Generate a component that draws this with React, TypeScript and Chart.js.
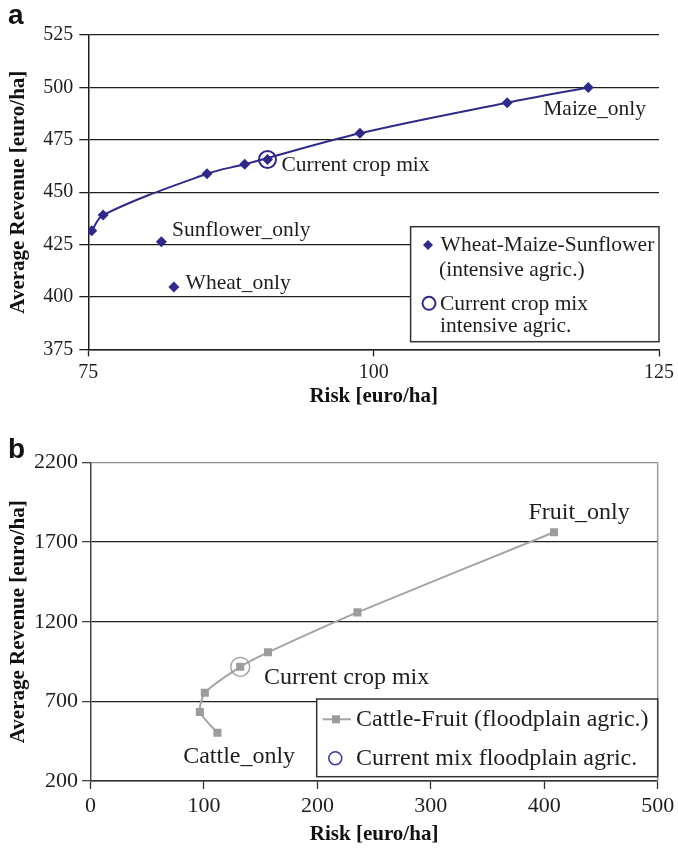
import { useEffect, useRef } from 'react';
import { Chart, registerables } from 'chart.js';

Chart.register(...registerables);

const SERIF = "'Liberation Serif', 'Times New Roman', serif";
const SANS = "'Liberation Sans', Arial, sans-serif";

// ---- Panel a: Wheat-Maize-Sunflower portfolios (intensive agriculture) ----
const riskTicksA = [75, 100, 125];
const revenueTicksA = [375, 400, 425, 450, 475, 500, 525];
const frontierRiskA = [75.3, 76.3, 85.4, 88.7, 98.8, 111.7, 118.8];
const frontierRevenueA = [431.6, 439.1, 458.8, 463.3, 478.1, 492.7, 500.0];
const singleCropNamesA = ['Sunflower_only', 'Wheat_only'];
const singleRiskA = [81.4, 82.5];
const singleRevenueA = [426.4, 404.8];
const currentRiskA = [90.7];
const currentRevenueA = [465.6];
const legendA = [
  ['Wheat-Maize-Sunflower', '(intensive agric.)'],
  ['Current crop mix', 'intensive agric.'],
];

// ---- Panel b: Cattle-Fruit portfolios (floodplain agriculture) ----
const riskTicksB = [0, 100, 200, 300, 400, 500];
const revenueTicksB = [200, 700, 1200, 1700, 2200];
const frontierRiskB = [111.9, 96.4, 100.8, 132.0, 156.5, 235.3, 408.6];
const frontierRevenueB = [503, 633, 754, 917, 1008, 1259, 1762];
const currentRiskB = [132.0];
const currentRevenueB = [917];
const legendB = ['Cattle-Fruit (floodplain agric.)', 'Current mix floodplain agric.'];

const NAVY = '#2f2a88';
const GREY_MARK = '#9c9c9c';
const GREY_LINE = '#a4a4a4';
const INK = '#1e1e1e';

const toPoints = (xs: number[], ys: number[]) => xs.map((x, i) => ({ x, y: ys[i] }));
const fixedTicks = (values: number[]) => (s: any) => {
  s.ticks = values.map((v) => ({ value: v }));
};

function diamond(ctx: CanvasRenderingContext2D, x: number, y: number, r: number) {
  ctx.beginPath();
  ctx.moveTo(x, y - r);
  ctx.lineTo(x + r, y);
  ctx.lineTo(x, y + r);
  ctx.lineTo(x - r, y);
  ctx.closePath();
  ctx.fill();
}

const panelAPlugin = {
  id: 'panelAText',
  afterDraw(chart: any) {
    const { ctx, chartArea: ca, scales } = chart;
    const sx = scales.x;
    const sy = scales.y;
    ctx.save();
    ctx.textAlign = 'left';
    ctx.textBaseline = 'alphabetic';

    ctx.fillStyle = '#111';
    ctx.font = `bold 28px ${SANS}`;
    ctx.fillText('a', 8, 24);

    ctx.font = `21.5px ${SERIF}`;
    ctx.fillStyle = INK;
    const label = (t: string, vx: number, vy: number, dx: number, dy: number) =>
      ctx.fillText(t, sx.getPixelForValue(vx) + dx, sy.getPixelForValue(vy) + dy);
    const last = frontierRiskA.length - 1;
    label('Maize_only', frontierRiskA[last], frontierRevenueA[last], -45, 27.7);
    label('Current crop mix', currentRiskA[0], currentRevenueA[0], 14, 11.5);
    label(singleCropNamesA[0], singleRiskA[0], singleRevenueA[0], 10.7, -6);
    label(singleCropNamesA[1], singleRiskA[1], singleRevenueA[1], 11.7, 2.3);

    // legend box
    const L = ca.right - 248.4;
    const T = ca.bottom - 122.7;
    ctx.fillStyle = '#fff';
    ctx.fillRect(L, T, 248.4, 115);
    ctx.strokeStyle = '#333';
    ctx.lineWidth = 1.5;
    ctx.strokeRect(L, T, 248.4, 115);

    ctx.fillStyle = NAVY;
    diamond(ctx, L + 17.4, T + 18.3, 5);
    ctx.beginPath();
    ctx.arc(L + 18.4, T + 76.6, 6.5, 0, Math.PI * 2);
    ctx.strokeStyle = NAVY;
    ctx.lineWidth = 2;
    ctx.stroke();

    ctx.fillStyle = INK;
    ctx.fillText(legendA[0][0], L + 30, T + 24.3);
    ctx.fillText(legendA[0][1], L + 28.4, T + 49.3);
    ctx.fillText(legendA[1][0], L + 29.4, T + 83.3);
    ctx.fillText(legendA[1][1], L + 29.4, T + 105);
    ctx.restore();
  },
};

const panelBPlugin = {
  id: 'panelBText',
  afterDraw(chart: any) {
    const { ctx, chartArea: ca, scales } = chart;
    const sx = scales.x;
    const sy = scales.y;
    ctx.save();

    // right frame line
    ctx.strokeStyle = '#9a9a9a';
    ctx.lineWidth = 1.5;
    ctx.beginPath();
    ctx.moveTo(ca.right, ca.top);
    ctx.lineTo(ca.right, ca.bottom);
    ctx.stroke();

    ctx.textAlign = 'left';
    ctx.textBaseline = 'alphabetic';
    ctx.fillStyle = '#111';
    ctx.font = `bold 28px ${SANS}`;
    ctx.fillText('b', 8, 38);

    ctx.font = `24px ${SERIF}`;
    ctx.fillStyle = INK;
    const label = (t: string, vx: number, vy: number, dx: number, dy: number) =>
      ctx.fillText(t, sx.getPixelForValue(vx) + dx, sy.getPixelForValue(vy) + dy);
    const last = frontierRiskB.length - 1;
    label('Fruit_only', frontierRiskB[last], frontierRevenueB[last], -25.6, -13);
    label('Current crop mix', currentRiskB[0], currentRevenueB[0], 23.7, 17.3);
    label('Cattle_only', frontierRiskB[0], frontierRevenueB[0], -34.3, 30);

    // legend box
    const L = ca.right - 341;
    const T = ca.bottom - 82;
    ctx.fillStyle = '#fff';
    ctx.fillRect(L, T, 341, 77.7);
    ctx.strokeStyle = '#333';
    ctx.lineWidth = 1.5;
    ctx.strokeRect(L, T, 341, 77.7);

    ctx.strokeStyle = GREY_LINE;
    ctx.lineWidth = 2;
    ctx.beginPath();
    ctx.moveTo(L + 6, T + 20.3);
    ctx.lineTo(L + 34.3, T + 20.3);
    ctx.stroke();
    ctx.fillStyle = GREY_MARK;
    ctx.fillRect(L + 15.3, T + 16.3, 8, 8);

    ctx.strokeStyle = '#3b3a9c';
    ctx.lineWidth = 1.5;
    ctx.beginPath();
    ctx.arc(L + 18.6, T + 59.3, 6.5, 0, Math.PI * 2);
    ctx.stroke();

    ctx.fillStyle = INK;
    ctx.fillText(legendB[0], L + 39.3, T + 26.7);
    ctx.fillText(legendB[1], L + 39.3, T + 66);
    ctx.restore();
  },
};

function makeConfigA(): any {
  return {
    type: 'scatter',
    data: {
      datasets: [
        {
          label: 'Current crop mix intensive agric.',
          data: toPoints(currentRiskA, currentRevenueA),
          pointStyle: 'circle',
          pointRadius: 8.5,
          backgroundColor: 'rgba(0,0,0,0)',
          borderColor: NAVY,
          borderWidth: 2,
        },
        {
          label: 'Single crops and current mix',
          data: toPoints(singleRiskA.concat(currentRiskA), singleRevenueA.concat(currentRevenueA)),
          pointStyle: 'rectRot',
          pointRadius: 5.5,
          backgroundColor: NAVY,
          borderWidth: 0,
        },
        {
          label: 'Wheat-Maize-Sunflower (intensive agric.)',
          data: toPoints(frontierRiskA, frontierRevenueA),
          showLine: true,
          tension: 0.35,
          borderColor: NAVY,
          borderWidth: 2,
          pointStyle: 'rectRot',
          pointRadius: 5.5,
          pointBackgroundColor: NAVY,
          pointBorderWidth: 0,
        },
      ],
    },
    options: {
      responsive: false,
      animation: false,
      devicePixelRatio: 1,
      layout: { padding: { left: 0, right: 16.3, top: 35, bottom: 10.4 } },
      plugins: { legend: { display: false }, tooltip: { enabled: false } },
      scales: {
        x: {
          type: 'linear',
          min: 75,
          max: 125,
          afterBuildTicks: fixedTicks(riskTicksA),
          afterFit: (s: any) => { s.height = 60.2; },
          grid: { drawOnChartArea: false, drawTicks: true, tickLength: 7, tickColor: INK, tickWidth: 1.3 },
          border: { display: true, color: INK, width: 1.5 },
          ticks: {
            padding: 4,
            color: INK,
            maxRotation: 0,
            autoSkip: false,
            font: { family: SERIF, size: 20 },
            callback: (v: any) => String(v),
          },
          title: {
            display: true,
            text: 'Risk [euro/ha]',
            color: '#111',
            font: { family: SERIF, size: 21, weight: 'bold' },
            padding: { top: 0, bottom: 0 },
          },
        },
        y: {
          type: 'linear',
          min: 375,
          max: 525,
          afterBuildTicks: fixedTicks(revenueTicksA),
          afterFit: (s: any) => { s.width = 88.3; },
          grid: { color: INK, lineWidth: 1.3, drawTicks: true, tickLength: 9, tickColor: INK },
          border: { display: true, color: INK, width: 1.5 },
          ticks: {
            padding: 6,
            color: INK,
            autoSkip: false,
            font: { family: SERIF, size: 20 },
            callback: (v: any) => String(v),
          },
          title: {
            display: true,
            text: 'Average Revenue [euro/ha]',
            color: '#111',
            font: { family: SERIF, size: 21, weight: 'bold' },
            padding: { top: 6.4, bottom: 0 },
          },
        },
      },
    },
    plugins: [panelAPlugin],
  };
}

function makeConfigB(): any {
  return {
    type: 'scatter',
    data: {
      datasets: [
        {
          label: 'Current mix floodplain agric.',
          data: toPoints(currentRiskB, currentRevenueB),
          pointStyle: 'circle',
          pointRadius: 9.5,
          backgroundColor: 'rgba(0,0,0,0)',
          borderColor: '#9a9a9a',
          borderWidth: 1.3,
        },
        {
          label: 'Cattle-Fruit (floodplain agric.)',
          data: toPoints(frontierRiskB, frontierRevenueB),
          showLine: true,
          tension: 0.2,
          borderColor: GREY_LINE,
          borderWidth: 2,
          pointStyle: 'rect',
          pointRadius: 5.7,
          pointBackgroundColor: GREY_MARK,
          pointBorderWidth: 0,
        },
      ],
    },
    options: {
      responsive: false,
      animation: false,
      devicePixelRatio: 1,
      layout: { padding: { left: 0, right: 16.3, top: 42.5, bottom: 2.4 } },
      plugins: { legend: { display: false }, tooltip: { enabled: false } },
      scales: {
        x: {
          type: 'linear',
          min: 0,
          max: 500,
          afterBuildTicks: fixedTicks(riskTicksB),
          afterFit: (s: any) => { s.height = 66.6; },
          grid: { drawOnChartArea: false, drawTicks: true, tickLength: 8, tickColor: '#333', tickWidth: 1.3 },
          border: { display: true, color: '#333', width: 1.5 },
          ticks: {
            padding: 3.8,
            color: INK,
            maxRotation: 0,
            autoSkip: false,
            font: { family: SERIF, size: 22 },
            callback: (v: any) => String(v),
          },
          title: {
            display: true,
            text: 'Risk [euro/ha]',
            color: '#111',
            font: { family: SERIF, size: 21, weight: 'bold' },
            padding: { top: 0, bottom: 0 },
          },
        },
        y: {
          type: 'linear',
          min: 200,
          max: 2200,
          afterBuildTicks: fixedTicks(revenueTicksB),
          afterFit: (s: any) => { s.width = 90.5; },
          grid: {
            color: (c: any) => (c.tick && c.tick.value === 2200 ? '#8a8a8a' : INK),
            lineWidth: 1.3,
            drawTicks: true,
            tickLength: 8.5,
            tickColor: '#444',
          },
          border: { display: true, color: '#444', width: 1.5 },
          ticks: {
            padding: 4,
            color: INK,
            autoSkip: false,
            font: { family: SERIF, size: 22 },
            callback: (v: any) => String(v),
          },
          title: {
            display: true,
            text: 'Average Revenue [euro/ha]',
            color: '#111',
            font: { family: SERIF, size: 21, weight: 'bold' },
            padding: { top: 6.4, bottom: 0 },
          },
        },
      },
    },
    plugins: [panelBPlugin],
  };
}

function ChartPanel({ top, height, makeConfig }: { top: number; height: number; makeConfig: () => any }) {
  const ref = useRef<HTMLCanvasElement | null>(null);
  useEffect(() => {
    if (!ref.current) return;
    const chart = new Chart(ref.current, makeConfig());
    return () => chart.destroy();
  }, [makeConfig]);
  return (
    <canvas
      ref={ref}
      width={678}
      height={height}
      style={{ position: 'absolute', left: 0, top, width: 678, height, display: 'block' }}
    />
  );
}

export default function App() {
  return (
    <div style={{ position: 'absolute', left: 0, top: 0, width: 678, height: 850, background: '#fff' }}>
      <ChartPanel top={0} height={420} makeConfig={makeConfigA} />
      <ChartPanel top={420} height={430} makeConfig={makeConfigB} />
    </div>
  );
}
